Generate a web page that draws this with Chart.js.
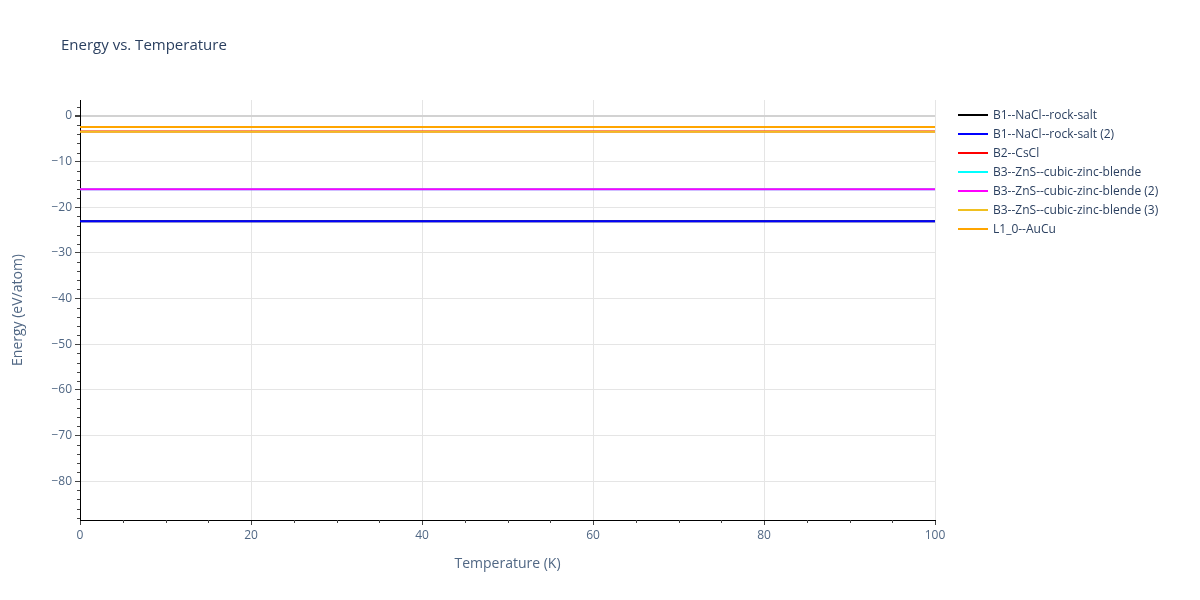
<!DOCTYPE html>
<html>
<head>
<meta charset="utf-8">
<script src="https://cdn.jsdelivr.net/npm/chart.js@4.4.1/dist/chart.umd.min.js"></script>
<style>
  body { margin: 0; background: #fff; font-family: "Open Sans", Arial, sans-serif; }
  #wrap { position: relative; width: 1200px; height: 600px; }
  #title { position: absolute; left: 61px; top: 34px; font-size: 15px; color: #2a3f5f; }
  #legend { position: absolute; left: 958px; top: 105px; font-size: 12px; color: #2a3f5f; }
  .item { height: 19px; display: flex; align-items: center; }
  .swatch { width: 30px; height: 2px; margin-right: 5px; }
</style>
</head>
<body>
<div id="wrap">
  <canvas id="chart" width="1200" height="600"></canvas>
  <div id="title">Energy vs. Temperature</div>
  <div id="legend"></div>
</div>
<script>
// temperatures (K)
const temperatures = [0, 10, 20, 30, 40, 50, 60, 70, 80, 90, 100];

// energies (eV/atom)
const b1RockSalt    = [-23.05, -23.05, -23.05, -23.05, -23.05, -23.05, -23.05, -23.05, -23.05, -23.05, -23.05];
const b1RockSalt2   = [-23.05, -23.05, -23.05, -23.05, -23.05, -23.05, -23.05, -23.05, -23.05, -23.05, -23.05];
const b2CsCl        = [-3.42, -3.42, -3.42, -3.42, -3.42, -3.42, -3.42, -3.42, -3.42, -3.42, -3.42];
const b3ZincBlende  = [-16.05, -16.05, -16.05, -16.05, -16.05, -16.05, -16.05, -16.05, -16.05, -16.05, -16.05];
const b3ZincBlende2 = [-16.05, -16.05, -16.05, -16.05, -16.05, -16.05, -16.05, -16.05, -16.05, -16.05, -16.05];
const b3ZincBlende3 = [-3.44, -3.44, -3.44, -3.44, -3.44, -3.44, -3.44, -3.44, -3.44, -3.44, -3.44];
const l10AuCu       = [-2.41, -2.41, -2.41, -2.41, -2.41, -2.41, -2.41, -2.41, -2.41, -2.41, -2.41];

const seriesNames = ['B1--NaCl--rock-salt', 'B1--NaCl--rock-salt (2)', 'B2--CsCl',
    'B3--ZnS--cubic-zinc-blende', 'B3--ZnS--cubic-zinc-blende (2)',
    'B3--ZnS--cubic-zinc-blende (3)', 'L1_0--AuCu'];
const seriesValues = [b1RockSalt, b1RockSalt2, b2CsCl, b3ZincBlende, b3ZincBlende2, b3ZincBlende3, l10AuCu];
const seriesColors = ['#000000', '#0000ff', '#ff0000', '#00ffff', '#ff00ff', '#f0c020', '#ffa500'];

const yTicks = [-80, -70, -60, -50, -40, -30, -20, -10, 0];
const xTicks = [0, 20, 40, 60, 80, 100];

let chartDatasets = [];
for (let index = 0; index < seriesNames.length; index++) {
    chartDatasets.push({
        label: seriesNames[index],
        data: temperatures.map((t, i) => ({ x: t, y: seriesValues[index][i] })),
        borderColor: seriesColors[index],
        backgroundColor: seriesColors[index],
        borderWidth: 2,
        pointRadius: 0,
        fill: false,
        order: seriesNames.length - index,
    });
}

// short minor ticks like the original axes
const minorTicks = {
    id: 'minorTicks',
    afterDraw(chart) {
        const c = chart.ctx;
        const xs = chart.scales.x, ys = chart.scales.y;
        const area = chart.chartArea;
        c.save();
        c.strokeStyle = '#444';
        c.lineWidth = 1;
        c.beginPath();
        for (let v = -88; v <= 2; v += 2) {
            if (v % 10 === 0) continue;
            const py = Math.round(ys.getPixelForValue(v)) + 0.5;
            c.moveTo(area.left - 3, py);
            c.lineTo(area.left, py);
        }
        for (let v = 5; v < 100; v += 5) {
            if (v % 20 === 0) continue;
            const px = Math.round(xs.getPixelForValue(v)) + 0.5;
            c.moveTo(px, area.bottom);
            c.lineTo(px, area.bottom + 3);
        }
        c.stroke();
        c.restore();
    }
};

const tickFont = { family: '"Open Sans", Arial, sans-serif', size: 12 };

new Chart(document.getElementById('chart'), {
    type: 'line',
    data: { datasets: chartDatasets },
    plugins: [minorTicks],
    options: {
        responsive: false,
        animation: false,
        layout: { padding: { top: 100, right: 265, left: 0, bottom: 0 } },
        plugins: {
            legend: { display: false },
            tooltip: { enabled: false },
        },
        scales: {
            x: {
                type: 'linear',
                min: 0,
                max: 100,
                afterBuildTicks: (scale) => { scale.ticks = xTicks.map(v => ({ value: v })); },
                afterFit: (scale) => { scale.height = 80; },
                ticks: { color: '#506784', font: tickFont, padding: 3, maxRotation: 0 },
                grid: {
                    color: '#e5e5e5',
                    tickColor: '#444',
                    tickLength: 5,
                },
                border: { color: '#000', width: 1 },
                title: {
                    display: true,
                    text: 'Temperature (K)',
                    color: '#506784',
                    font: { family: '"Open Sans", Arial, sans-serif', size: 14 },
                    padding: { top: 0, bottom: 28 },
                },
            },
            y: {
                min: -88.5,
                max: 3.5,
                afterBuildTicks: (scale) => { scale.ticks = yTicks.map(v => ({ value: v })); },
                afterFit: (scale) => { scale.width = 80; },
                ticks: {
                    color: '#506784',
                    font: tickFont,
                    padding: 3,
                    callback: (v) => v < 0 ? '\u2212' + Math.abs(v) : String(v),
                },
                grid: {
                    color: (ctx) => ctx.tick && ctx.tick.value === 0 ? '#d2d2d2' : '#e5e5e5',
                    lineWidth: (ctx) => ctx.tick && ctx.tick.value === 0 ? 2 : 1,
                    tickColor: '#444',
                    tickLength: 5,
                },
                border: { color: '#000', width: 1 },
                title: {
                    display: true,
                    text: 'Energy (eV/atom)',
                    color: '#506784',
                    font: { family: '"Open Sans", Arial, sans-serif', size: 14 },
                    padding: { top: 10, bottom: 0 },
                },
            },
        },
    },
});

// legend as real text
const legend = document.getElementById('legend');
seriesNames.forEach((name, index) => {
    const item = document.createElement('div');
    item.className = 'item';
    const sw = document.createElement('span');
    sw.className = 'swatch';
    sw.style.background = seriesColors[index];
    const label = document.createElement('span');
    label.textContent = name;
    item.appendChild(sw);
    item.appendChild(label);
    legend.appendChild(item);
});
</script>
</body>
</html>
